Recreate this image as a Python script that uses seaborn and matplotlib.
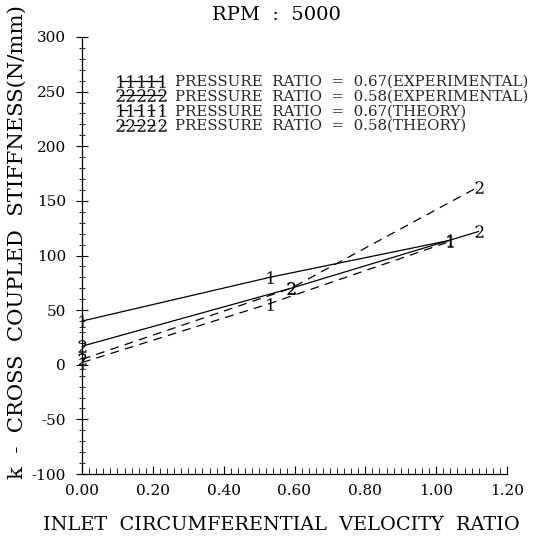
import numpy as np
import pandas as pd
import matplotlib
matplotlib.use("Agg")
import matplotlib.pyplot as plt
import seaborn as sns
from matplotlib.ticker import MultipleLocator
from matplotlib.lines import Line2D

# ---------------- data ----------------
series_labels = [
    "PRESSURE  RATIO  =  0.67(EXPERIMENTAL)",
    "PRESSURE  RATIO  =  0.58(EXPERIMENTAL)",
    "PRESSURE  RATIO  =  0.67(THEORY)",
    "PRESSURE  RATIO  =  0.58(THEORY)",
]
x_exp_067 = [0.00, 0.53, 1.04]
y_exp_067 = [40, 80, 114]
x_exp_058 = [0.00, 0.59, 1.12]
y_exp_058 = [17, 70, 122]
x_th_067 = [0.00, 0.53, 1.04]
y_th_067 = [2, 56, 113]
x_th_058 = [0.00, 0.59, 1.12]
y_th_058 = [5, 70, 163]

series_marks = ["$1$", "$2$", "$1$", "$2$"]

x_ticks = [0.0, 0.2, 0.4, 0.6, 0.8, 1.0, 1.2]
x_tick_labels = ["0.00", "0.20", "0.40", "0.60", "0.80", "1.00", "1.20"]
y_ticks = [-100, -50, 0, 50, 100, 150, 200, 250, 300]
y_tick_labels = ["-100", "-50", "0", "50", "100", "150", "200", "250", "300"]

title_text = "RPM  :  5000"
xlabel_text = "INLET  CIRCUMFERENTIAL  VELOCITY  RATIO"
ylabel_text = "k  -  CROSS  COUPLED  STIFFNESS(N/mm)"

# ---------------- frame ----------------
frames = []
for lab, xs, ys in zip(series_labels,
                       [x_exp_067, x_exp_058, x_th_067, x_th_058],
                       [y_exp_067, y_exp_058, y_th_067, y_th_058]):
    frames.append(pd.DataFrame({"x": xs, "y": ys, "series": lab}))
df = pd.concat(frames, ignore_index=True)

sns.set_theme(style="white")
plt.rcParams["font.family"] = ["DejaVu Serif"]
plt.rcParams["mathtext.fontset"] = "dejavuserif"

line_styles = ["", "", (7, 5), (7, 5)]
mpl_ls = ["-", "-", (0, (6.3, 4.5)), (0, (6.3, 4.5))]

fig = plt.figure(figsize=(5.36, 5.37), dpi=100)
ax = fig.add_axes([82 / 536, 1 - 474 / 537, (507 - 82) / 536, (474 - 37) / 537])

sns.lineplot(
    data=df, x="x", y="y", hue="series", style="series",
    palette={s: "black" for s in series_labels},
    markers=dict(zip(series_labels, series_marks)),
    dashes=dict(zip(series_labels, line_styles)),
    sort=False, markersize=9, lw=0.9, mec="black", mew=0.0,
    clip_on=False, legend=False, ax=ax,
)

ax.set_xlim(0, 1.2)
ax.set_ylim(-100, 300)
ax.set_xticks(x_ticks)
ax.set_xticklabels(x_tick_labels)
ax.set_yticks(y_ticks)
ax.set_yticklabels(y_tick_labels)
ax.xaxis.set_minor_locator(MultipleLocator(0.02))
ax.yaxis.set_minor_locator(MultipleLocator(10))
ax.tick_params(axis="x", which="major", direction="in", length=6, width=0.8,
               pad=7, labelsize=11, colors="black", bottom=True)
ax.tick_params(axis="x", which="minor", direction="in", length=4, width=0.7,
               bottom=True)
ax.tick_params(axis="y", which="major", direction="inout", length=9, width=0.8,
               pad=7, labelsize=11, colors="black", left=True)
ax.tick_params(axis="y", which="minor", direction="inout", length=5, width=0.7,
               left=True)
for side in ["top", "right"]:
    ax.spines[side].set_visible(False)
for side in ["left", "bottom"]:
    ax.spines[side].set_color("black")
    ax.spines[side].set_linewidth(0.9)
ax.set_xlabel("")
ax.set_ylabel("")
ax.grid(False)

# legend
handles = [
    Line2D([], [], color="black", lw=0.9, ls=ls, marker=m, markersize=9,
           mec="black", mew=0.0)
    for ls, m in zip(mpl_ls, series_marks)
]
fig.legend(handles, series_labels, loc="upper left",
           bbox_to_anchor=(115 / 536, 1 - 75 / 537), bbox_transform=fig.transFigure,
           frameon=False, numpoints=5, handlelength=3.4, handletextpad=0.6,
           labelspacing=0.04, borderpad=0, borderaxespad=0,
           prop={"family": "DejaVu Serif", "size": 10.8})

fig.text(276 / 536, 1 - 15 / 537, title_text, ha="center", va="center",
         fontsize=14, color="black")
fig.text(43 / 536, 1 - 525 / 537, xlabel_text, ha="left", va="center",
         fontsize=13.9, color="black")
fig.text(17 / 536, 1 - 242 / 537, ylabel_text, ha="center", va="center",
         rotation=90, fontsize=15.2, color="black")

fig.savefig("out.png", dpi=100)
